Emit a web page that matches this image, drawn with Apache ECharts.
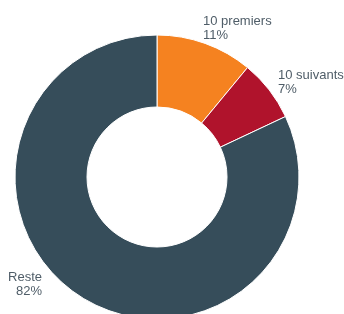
<!DOCTYPE html>
<html>
<head>
<meta charset="utf-8">
<script src="https://cdn.jsdelivr.net/npm/echarts@6/dist/echarts.min.js"></script>
<style>
  html, body { margin: 0; padding: 0; background: #fff; }
  #chart { width: 344px; height: 314px; }
</style>
</head>
<body>
<div id="chart"></div>
<script>
// données du graphique
const categories = ['10 premiers', '10 suivants', 'Reste'];
const shares = [11, 7, 82];
const colors = ['#f58220', '#b0132c', '#364d5a'];

// position des étiquettes (x, y, alignement)
const labelSpots = [
    { x: 203, y: 14, align: 'left' },
    { x: 278, y: 68, align: 'left' },
    { x: 42, y: 270, align: 'right' }
];

const chart = echarts.init(document.getElementById('chart'), null, { renderer: 'canvas' });

chart.setOption({
    animation: false,
    series: [{
        type: 'pie',
        center: [157, 177],
        radius: [70, 142],
        startAngle: 90,
        clockwise: true,
        avoidLabelOverlap: false,
        itemStyle: { borderColor: '#fff', borderWidth: 1 },
        label: {
            show: true,
            position: 'outside',
            formatter: (p) => p.name + '\n' + p.value + '%',
            color: '#4f5d68',
            fontFamily: 'Liberation Sans, Arial, sans-serif',
            fontSize: 13,
            lineHeight: 14
        },
        labelLine: { show: false },
        labelLayout: (params) => {
            const s = labelSpots[params.dataIndex];
            return { x: s.x, y: s.y, align: s.align, verticalAlign: 'top' };
        },
        emphasis: { disabled: true },
        data: categories.map((name, i) => ({
            name: name,
            value: shares[i],
            itemStyle: { color: colors[i] }
        }))
    }]
});
</script>
</body>
</html>
